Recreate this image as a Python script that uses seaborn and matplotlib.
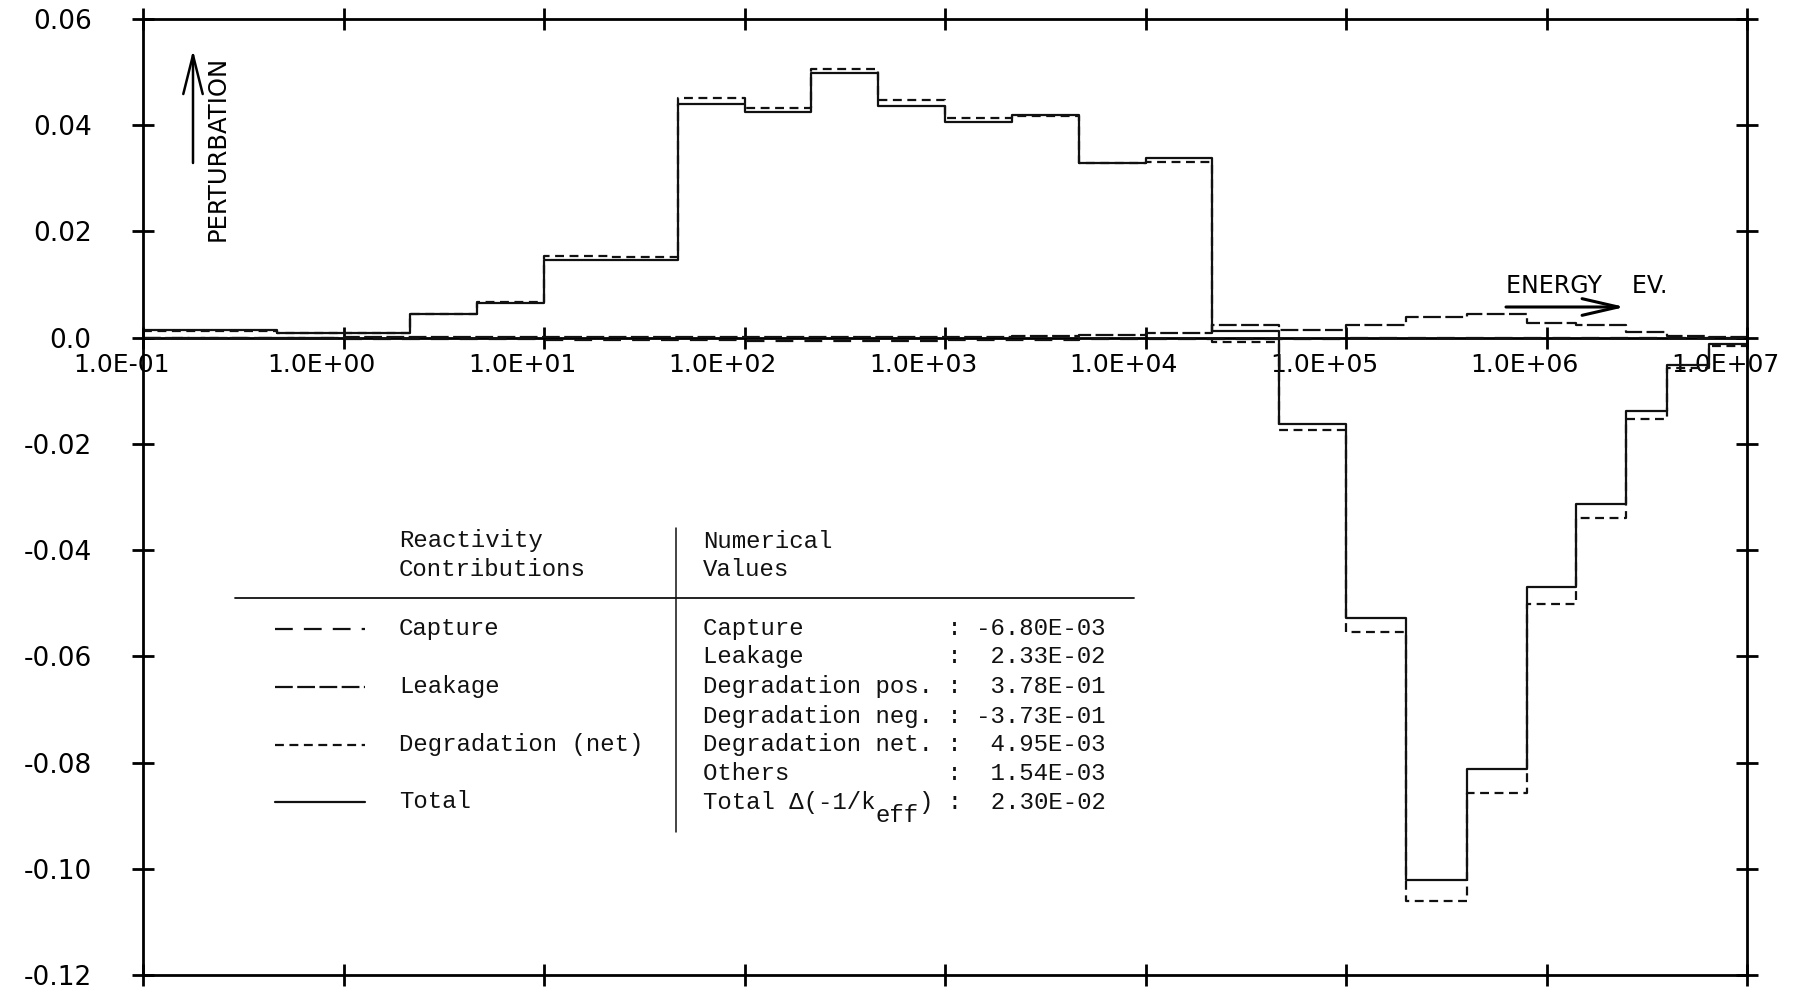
import numpy as np
import pandas as pd
import matplotlib
matplotlib.use("Agg")
import matplotlib.pyplot as plt
from matplotlib import font_manager
from matplotlib.lines import Line2D
from matplotlib.ticker import FixedLocator, NullLocator
from matplotlib.transforms import ScaledTranslation
import seaborn as sns

# ---------------------------------------------------------------------------
# Data: 26-group energy structure (eV) and group-wise reactivity contributions
# ---------------------------------------------------------------------------
group_edges = [0.1, 0.215, 0.465, 1.0, 2.15, 4.65, 10.0, 21.5, 46.5, 100.0,
               215.0, 465.0, 1.0e3, 2.15e3, 4.65e3, 1.0e4, 2.15e4, 4.65e4,
               1.0e5, 2.0e5, 4.0e5, 8.0e5, 1.4e6, 2.5e6, 4.0e6, 6.5e6, 1.05e7]

capture = [-0.0001, -0.0001, -0.0001, -0.0002, -0.0003, -0.0003, -0.0004,
           -0.0005, -0.0005, -0.0006, -0.0007, -0.0007, -0.0005, -0.0004,
           -0.0003, -0.0002, -0.0002, -0.0002, -0.0001, -0.0001, -0.0001,
           0.0, 0.0, 0.0, 0.0, 0.0]

leakage = [0.0000, 0.0000, 0.0000, 0.0001, 0.0001, 0.0001, 0.0001, 0.0001,
           0.0001, 0.0001, 0.0001, 0.0001, 0.0002, 0.0003, 0.0005, 0.0009,
           0.0023, 0.0015, 0.0024, 0.0038, 0.0044, 0.0027, 0.0024, 0.0010,
           0.0004, 0.0002]

degradation = [0.0013, 0.0013, 0.0008, 0.0008, 0.0045, 0.0068, 0.0154,
               0.0152, 0.0451, 0.0433, 0.0506, 0.0448, 0.0414, 0.0418,
               0.0329, 0.0331, -0.0009, -0.0173, -0.0554, -0.1060, -0.0857,
               -0.0501, -0.0340, -0.0153, -0.0058, -0.0016]

total = [0.0014, 0.0014, 0.0009, 0.0009, 0.0044, 0.0066, 0.0146, 0.0146,
         0.0440, 0.0424, 0.0498, 0.0437, 0.0407, 0.0420, 0.0329, 0.0339,
         0.0012, -0.0163, -0.0528, -0.1022, -0.0813, -0.0470, -0.0314,
         -0.0138, -0.0052, -0.0011]

component_names = ["Capture", "Leakage", "Degradation (net)", "Total"]

x_ticks = [1e-1, 1e0, 1e1, 1e2, 1e3, 1e4, 1e5, 1e6, 1e7]
x_tick_labels = ["1.0E-01", "1.0E+00", "1.0E+01", "1.0E+02", "1.0E+03",
                 "1.0E+04", "1.0E+05", "1.0E+06", "1.0E+07"]
y_ticks = [-0.12, -0.10, -0.08, -0.06, -0.04, -0.02, 0.0, 0.02, 0.04, 0.06]
y_tick_labels = ["-0.12", "-0.10", "-0.08", "-0.06", "-0.04", "-0.02",
                 "0.0", "0.02", "0.04", "0.06"]

value_names = ["Capture", "Leakage", "Degradation pos.", "Degradation neg.",
               "Degradation net.", "Others"]
value_numbers = [-6.80e-3, 2.33e-2, 3.78e-1, -3.73e-1, 4.95e-3, 1.54e-3]
total_value = 2.30e-2

# ---------------------------------------------------------------------------
# Style
# ---------------------------------------------------------------------------
sns.set_theme(style="white")

installed = {f.name for f in font_manager.fontManager.ttflist}
mono_pref = ["Liberation Mono", "Nimbus Mono PS", "FreeMono", "Courier New",
             "DejaVu Sans Mono"]
MONO = [f for f in mono_pref if f in installed] or ["DejaVu Sans Mono"]

plt.rcParams.update({
    "font.family": ["DejaVu Sans"],
    "text.color": "black",
    "axes.edgecolor": "black",
    "axes.linewidth": 2.0,
    "xtick.color": "black",
    "ytick.color": "black",
    "axes.unicode_minus": False,
})
INK = "#111111"

line_dashes = {
    "Capture": (8, 5),
    "Leakage": (8, 2),
    "Degradation (net)": (4, 2.5),
    "Total": "",
}
LW = 1.6

# long-form table, step curves drawn with "steps-post" on group lower edges
series = {"Capture": capture, "Leakage": leakage,
          "Degradation (net)": degradation, "Total": total}
frames = []
for name in component_names:
    vals = list(series[name])
    frames.append(pd.DataFrame({
        "energy": group_edges,
        "value": vals + [vals[-1]],
        "component": name,
    }))
df = pd.concat(frames, ignore_index=True)

W, H = 1799, 990
fig = plt.figure(figsize=(W / 100, H / 100), dpi=100)
ax = fig.add_axes([143 / W, 15 / H, 1604 / W, 956 / H])
ax.set_xscale("log")

sns.lineplot(data=df, x="energy", y="value", style="component",
             style_order=component_names, dashes=line_dashes,
             color=INK, linewidth=LW, drawstyle="steps-post",
             estimator=None, errorbar=None, legend=False, ax=ax)

ax.set_xlim(x_ticks[0], x_ticks[-1])
ax.set_ylim(y_ticks[0], y_ticks[-1])
ax.set_xlabel("")
ax.set_ylabel("")

# frame ticks: crossing marks on all four sides
ax.xaxis.set_major_locator(FixedLocator(x_ticks))
ax.xaxis.set_minor_locator(NullLocator())
ax.set_yticks(y_ticks, y_tick_labels)
ax.tick_params(axis="both", which="major", direction="inout", length=16,
               width=2, top=True, right=True, bottom=True, left=True,
               labelbottom=False)
ax.tick_params(axis="y", labelsize=19, pad=29)

# energy axis drawn along the zero line
zero_pos = (0.0 - y_ticks[0]) / (y_ticks[-1] - y_ticks[0])
sec = ax.secondary_xaxis(zero_pos)
sec.set_alignment("bottom")
sec.set_xticks(x_ticks, x_tick_labels)
sec.xaxis.set_minor_locator(NullLocator())
sec.spines["bottom"].set_linewidth(2.0)
sec.tick_params(axis="x", which="major", direction="inout", length=16,
                width=2, labelsize=18, pad=3)
# labels sit with the exponent digits just right of each tick
shift = ScaledTranslation(-0.22, 0, fig.dpi_scale_trans)
for lab in sec.get_xticklabels():
    lab.set_transform(lab.get_transform() + shift)


def fx(px):
    return px / W


def fy(py):
    return 1 - py / H


# axis captions with arrows
fig.text(fx(218), fy(148), "PERTURBATION", rotation=90, fontsize=17.5,
         ha="center", va="center")
ax.annotate("", xy=(fx(193), fy(50)), xytext=(fx(193), fy(163)),
            xycoords="figure fraction", textcoords="figure fraction",
            arrowprops=dict(arrowstyle="->,head_length=1.4,head_width=0.35",
                            lw=1.8, color="black", shrinkA=0, shrinkB=0,
                            mutation_scale=20))
fig.text(fx(1506), fy(286), "ENERGY    EV.", fontsize=17, ha="left",
         va="center")
ax.annotate("", xy=(fx(1625), fy(307)), xytext=(fx(1506), fy(307)),
            xycoords="figure fraction", textcoords="figure fraction",
            arrowprops=dict(arrowstyle="->,head_length=1.3,head_width=0.3",
                            lw=2.2, color="black", shrinkA=0, shrinkB=0,
                            mutation_scale=20))

# summary table
TS = 17.3
cw = 0.6 * TS * 100 / 72
left_col, right_col = 399, 703
fig.text(fx(left_col), fy(541), "Reactivity", family=MONO, fontsize=TS,
         color=INK, va="center")
fig.text(fx(left_col), fy(570), "Contributions", family=MONO, fontsize=TS,
         color=INK, va="center")
fig.text(fx(right_col), fy(541), "Numerical", family=MONO, fontsize=TS,
         color=INK, va="center")
fig.text(fx(right_col), fy(570), "Values", family=MONO, fontsize=TS,
         color=INK, va="center")
fig.add_artist(Line2D([fx(235), fx(1134)], [fy(598), fy(598)],
                      color=INK, lw=1.3))
fig.add_artist(Line2D([fx(676), fx(676)], [fy(528), fy(832)],
                      color=INK, lw=1.1))

legend_rows = [629, 687, 745, 802]
for name, ry in zip(component_names, legend_rows):
    d = line_dashes[name]
    key = Line2D([fx(275), fx(365)], [fy(ry), fy(ry)], color=INK, lw=LW)
    if d:
        key.set_dashes(d)
    fig.add_artist(key)
    fig.text(fx(left_col), fy(ry), name, family=MONO, fontsize=TS,
             color=INK, va="center")

value_rows = [629, 657, 687, 716, 745, 773, 802]
for name, v, ry in zip(value_names, value_numbers, value_rows):
    fig.text(fx(right_col), fy(ry), f"{name:<17}: {v:>9.2E}", family=MONO,
             fontsize=TS, color=INK, va="center")
ry = value_rows[-1]
fig.text(fx(right_col), fy(ry), "Total \u0394(-1/k", family=MONO,
         fontsize=TS, color=INK, va="center")
fig.text(fx(right_col + 12 * cw), fy(ry + 14), "eff", family=MONO,
         fontsize=TS, color=INK, va="center")
fig.text(fx(right_col + 15 * cw), fy(ry), f") : {total_value:>9.2E}",
         family=MONO, fontsize=TS, color=INK, va="center")

fig.savefig("out.png", dpi=100, facecolor="white")
